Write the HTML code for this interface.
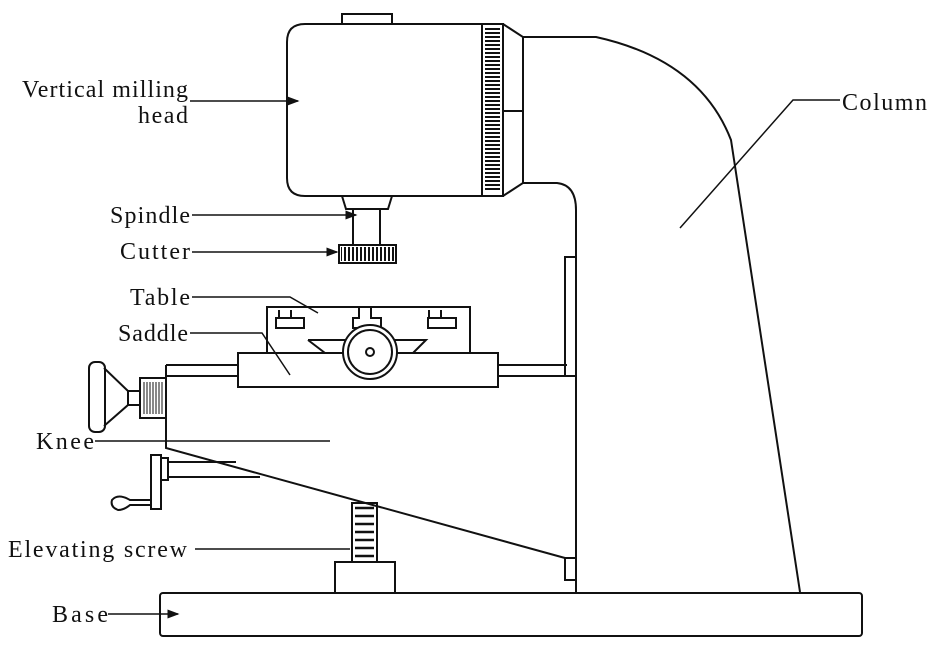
<!DOCTYPE html>
<html><head><style>body{margin:0;background:#fff}svg{display:block}text{font-family:"Liberation Serif",serif;font-size:24px;fill:#111}</style></head><body>
<svg width="934" height="666" viewBox="0 0 934 666" xmlns="http://www.w3.org/2000/svg">
<defs><marker id="a" markerWidth="8" markerHeight="6" refX="7" refY="3" orient="auto"><path d="M0,0 L8,3 L0,6 Z" fill="#111"/></marker>
<pattern id="hs" width="4" height="4" patternUnits="userSpaceOnUse"><rect width="4" height="2" fill="#111"/></pattern>
<pattern id="vs" width="4" height="4" patternUnits="userSpaceOnUse"><rect width="2" height="4" fill="#111"/></pattern></defs>
<g fill="none" stroke="#111" stroke-width="2">
<rect x="342" y="14" width="50" height="10"/>
<path d="M482,24 H305 Q287,24 287,42 V178 Q287,196 305,196 H482"/>
<rect x="482" y="24" width="21" height="172"/>
<rect x="485" y="28" width="15" height="164" fill="url(#hs)" stroke="none"/>
<path d="M503,24 L523,37 V183 L503,196"/>
<path d="M503,111 H523"/>
<path d="M342,196 H392 L388,209 H346 Z"/>
<path d="M353,209 V245 M380,209 V245"/>
<rect x="339" y="245" width="57" height="18"/>
<rect x="341" y="247" width="53" height="14" fill="url(#vs)" stroke="none"/>
<path d="M523,37 H596 Q700,60 731,140 L800,592"/>
<path d="M523,183 H557 Q576,185 576,210 V592"/>
<path d="M576,257 H565 V375"/>
<path d="M576,558 H565 V580 H576"/>
<path d="M267,353 V307 H470 V353"/>
<path d="M279,310 V318 H291 V310 M279,318 H276 V328 H304 V318 H291"/>
<path d="M359,307 V318 H353 V328 H381 V318 H371 V307"/>
<path d="M429,310 V318 H441 V310 M429,318 H428 V328 H456 V318 H441"/>
<rect x="238" y="353" width="260" height="34"/>
<path d="M308,340 H346 M308,340 L325,353 M394,340 H426 L413,353"/>
<circle cx="370" cy="352" r="27" fill="#fff"/>
<circle cx="370" cy="352" r="22"/>
<circle cx="370" cy="352" r="4"/>
<path d="M498,365 H567 M498,376 H576"/>
<path d="M238,365 H166 M238,376 H166"/>
<path d="M166,365 V448 L565,558"/>
<rect x="140" y="378" width="26" height="40"/>
<path d="M144,382 V414 M147,382 V414 M150,382 V414 M153,382 V414 M156,382 V414 M159,382 V414 M162,382 V414" stroke-width="1"/>
<rect x="128" y="391" width="12" height="14"/>
<path d="M104,368 L128,391 M104,426 L128,405"/>
<rect x="89" y="362" width="16" height="70" rx="6"/>
<rect x="151" y="455" width="10" height="54"/>
<rect x="161" y="458" width="7" height="22"/>
<path d="M168,462 H236 M168,477 H260"/>
<path d="M151,500 H130 Q118,493 112,500 Q110,507 118,510 Q124,510 130,505 H151"/>
<rect x="352" y="503" width="25" height="59"/>
<path d="M355,508 H374 M355,516 H374 M355,524 H374 M355,532 H374 M355,540 H374 M355,548 H374 M355,556 H374" stroke-width="2.5"/>
<rect x="335" y="562" width="60" height="31"/>
<rect x="160" y="593" width="702" height="43" rx="3"/>
</g>
<g stroke="#111" stroke-width="1.5" fill="none">
<path d="M190,101 H298" marker-end="url(#a)"/>
<path d="M192,215 H356" marker-end="url(#a)"/>
<path d="M192,252 H337" marker-end="url(#a)"/>
<path d="M192,297 H290 L318,313"/>
<path d="M190,333 H262 L290,375"/>
<path d="M95,441 H330"/>
<path d="M195,549 H350"/>
<path d="M108,614 H178" marker-end="url(#a)"/>
<path d="M840,100 H793 L680,228"/>
</g>
<text x="22" y="97" textLength="166" lengthAdjust="spacing">Vertical milling</text>
<text x="138" y="123" textLength="50" lengthAdjust="spacing">head</text>
<text x="842" y="110" textLength="85" lengthAdjust="spacing">Column</text>
<text x="110" y="223" textLength="80" lengthAdjust="spacing">Spindle</text>
<text x="120" y="259" textLength="70" lengthAdjust="spacing">Cutter</text>
<text x="130" y="305" textLength="60" lengthAdjust="spacing">Table</text>
<text x="118" y="341" textLength="70" lengthAdjust="spacing">Saddle</text>
<text x="36" y="449" textLength="58" lengthAdjust="spacing">Knee</text>
<text x="8" y="557" textLength="179" lengthAdjust="spacing">Elevating screw</text>
<text x="52" y="622" textLength="56" lengthAdjust="spacing">Base</text>
</svg>
</body></html>
